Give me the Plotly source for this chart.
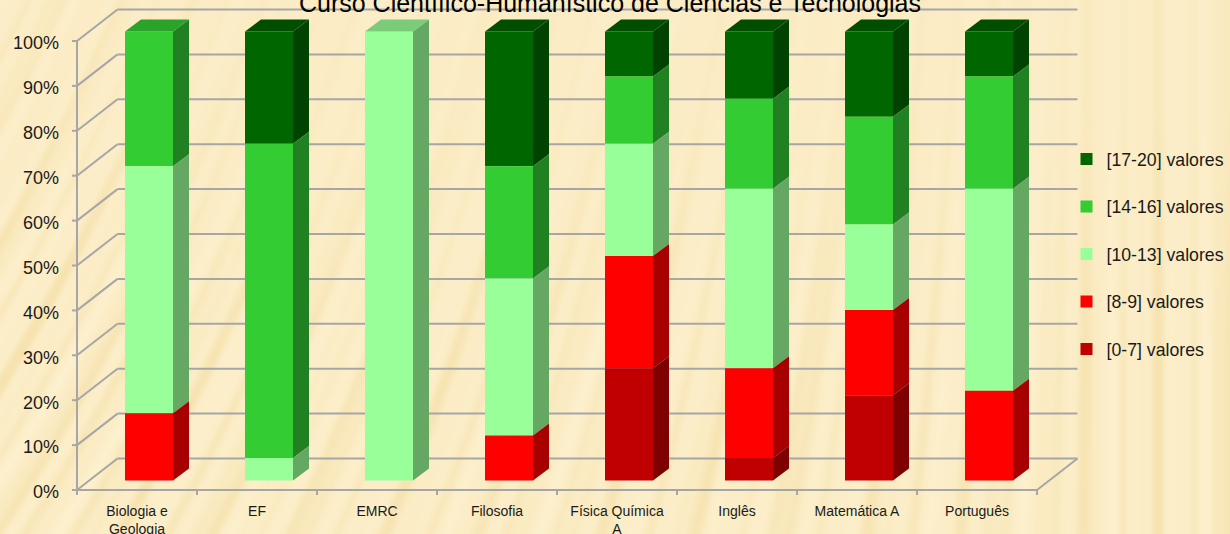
import base64, struct, zlib
import numpy as np
import plotly.graph_objects as go

categories = ["Biologia e<br>Geologia", "EF", "EMRC", "Filosofia", "Física Química<br>A", "Inglês", "Matemática A", "Português"]
s_0_7 = [0, 0, 0, 0, 25, 5, 19, 0]
s_8_9 = [15, 0, 0, 10, 25, 20, 19, 20]
s_10_13 = [55, 5, 100, 35, 25, 40, 19, 45]
s_14_16 = [30, 70, 0, 25, 15, 20, 24, 25]
s_17_20 = [0, 25, 0, 30, 10, 15, 19, 10]
names = ["[0-7] valores", "[8-9] valores", "[10-13] valores", "[14-16] valores", "[17-20] valores"]
colors = ["#C00000", "#FF0000", "#99FF99", "#33CC33", "#006600"]
side_colors = ["#7E0000", "#A60000", "#64A864", "#218021", "#004200"]
top_colors = ["#9A0000", "#CC0000", "#7ACC7A", "#2AA32A", "#004F00"]
series = [s_0_7, s_8_9, s_10_13, s_14_16, s_17_20]
ticks = list(range(0, 101, 10))

W, H = 1230, 534
PX_X = 120.0      # px per category
PX_Y = 4.49       # px per percent
X0, Y0 = 77, 490  # px of the front-left floor corner
L, R, T, B = 71, 1230, 4, 496
xr = [-0.5 + (L - X0) / PX_X, -0.5 + (R - X0) / PX_X]
yr = [(Y0 - B) / PX_Y, (Y0 - T) / PX_Y]

# 3-D projection offsets, in axis units
WALL_DX, WALL_DY = 40.5 / PX_X, 31.5 / PX_Y
BAR_FX, BAR_FY = 12 / PX_X, 9.5 / PX_Y
BAR_W = 48 / PX_X
SIDE_DX, SIDE_DY = 16 / PX_X, 12 / PX_Y


def texture():
    yy, xx = np.mgrid[0:H, 0:W].astype(float)
    u = xx / W
    lean = np.clip(1 - u * 1.12, 0, 1) * 0.5
    t = xx + yy * lean
    wave = (0.5 * np.sin(t / 5.3) + 0.3 * np.sin(t / 2.9 + 1.1) + 0.35 * np.sin(t / 11.7 + 0.4))
    mask = np.clip(0.2 + np.clip((yy - 110) / 260, 0, 1) * 0.6 + np.clip((0.25 - u) * 3, 0, 1) * 0.5
                   + np.clip((u - 0.72) * 3, 0, 1) * 0.3, 0, 1)
    v = np.clip(wave * mask, -1, 1)[..., None]
    light = np.array([253, 240, 205.0])
    dark = np.array([246, 227, 176.0])
    img = np.where(v > 0, light + (dark - light) * (0.25 * (1 - v)), light + (dark - light) * (0.25 - 0.75 * v))
    img = img.clip(0, 255).astype(np.uint8)
    raw = b"".join(b"\x00" + img[i].tobytes() for i in range(H))

    def chunk(tag, data):
        return struct.pack(">I", len(data)) + tag + data + struct.pack(">I", zlib.crc32(tag + data))
    png = b"\x89PNG\r\n\x1a\n" + chunk(b"IHDR", struct.pack(">IIBBBBB", W, H, 8, 2, 0, 0, 0)) \
        + chunk(b"IDAT", zlib.compress(raw, 9)) + chunk(b"IEND", b"")
    return "data:image/png;base64," + base64.b64encode(png).decode()


fig = go.Figure()
xs = list(range(len(categories)))
bases = np.cumsum([np.zeros(len(xs))] + [np.array(s, float) for s in series], axis=0)
for k in range(len(series) - 1, -1, -1):
    name = names[k]
    vals = np.array(series[k], float)
    cum = bases[k]
    fig.add_trace(go.Bar(
        x=xs, y=vals, base=cum + BAR_FY, name=name, width=BAR_W, offset=BAR_FX - BAR_W / 2,
        marker=dict(color=colors[k], line=dict(width=0)), legendgroup=name,
    ))
    sx, sy = [], []
    tx, ty = [], []
    for i in xs:
        if vals[i] <= 0:
            continue
        x1 = i + BAR_FX + BAR_W / 2
        lo, hi = cum[i] + BAR_FY, cum[i] + vals[i] + BAR_FY
        sx += [x1, x1 + SIDE_DX, x1 + SIDE_DX, x1, x1, None]
        sy += [lo, lo + SIDE_DY, hi + SIDE_DY, hi, lo, None]
        if cum[i] + vals[i] >= 100:
            x0 = x1 - BAR_W
            tx += [x0, x0 + SIDE_DX, x1 + SIDE_DX, x1, x0, None]
            ty += [hi, hi + SIDE_DY, hi + SIDE_DY, hi, hi, None]
    fig.add_trace(go.Scatter(x=sx, y=sy, mode="lines", line=dict(width=0), fill="toself",
                             fillcolor=side_colors[k], showlegend=False, hoverinfo="skip", legendgroup=name))
    if tx:
        fig.add_trace(go.Scatter(x=tx, y=ty, mode="lines", line=dict(width=0), fill="toself",
                                 fillcolor=top_colors[k], showlegend=False, hoverinfo="skip", legendgroup=name))

# walls and axis lines, placed through the axes
GRID = dict(color="#A6A6A6", width=2)
shapes = []


def seg(a, b, c, d):
    shapes.append(dict(type="line", xref="x", yref="y", x0=a, y0=b, x1=c, y1=d, line=GRID, layer="below"))


xl, xe = -0.5, len(categories) - 0.5
for v in ticks:
    seg(xl, v, xl + WALL_DX, v + WALL_DY)
    seg(xl + WALL_DX, v + WALL_DY, xe + WALL_DX, v + WALL_DY)
    seg(xl - 5 / PX_X, v, xl, v)
seg(xl, 0, xl, 100)
seg(xl, 0, xe, 0)
seg(xe, 0, xe + WALL_DX, WALL_DY)
for i in range(len(categories) + 1):
    seg(xl + i, 0, xl + i, -5 / PX_Y)

FONT = "Liberation Sans"
fig.update_layout(
    template="none",
    width=W, height=H, autosize=False,
    margin=dict(l=L, r=W - R, t=T, b=H - B, pad=0),
    paper_bgcolor="#FDF0CD", plot_bgcolor="rgba(0,0,0,0)",
    barmode="overlay", font=dict(family=FONT, color="#1A1A1A"),
    title=dict(text="Curso Científico-Humanístico de Ciências e Tecnologias",
               x=610 / W, xanchor="center", y=1 - 3 / H, yanchor="middle",
               font=dict(family=FONT, size=25, color="#000000")),
    xaxis=dict(range=xr, tickmode="array", tickvals=xs, ticktext=categories, ticks="", automargin=False,
               showgrid=False, zeroline=False, showline=False, tickangle=0,
               tickfont=dict(size=14), ticklabelstandoff=5),
    yaxis=dict(range=yr, tickmode="array", tickvals=ticks, ticktext=[f"{v}%" for v in ticks], ticks="", automargin=False,
               showgrid=False, zeroline=False, showline=False,
               tickfont=dict(size=18), ticklabelstandoff=11, ticklabelshift=2),
    legend=dict(x=(1066.5 - L) / (R - L), xanchor="left", y=(B - 368) / (B - T), yanchor="bottom",
                traceorder="grouped", tracegroupgap=21.5, bgcolor="rgba(0,0,0,0)",
                font=dict(size=17.7, color="#1A1A1A"), itemclick=False, itemdoubleclick=False),
    shapes=shapes,
    images=[dict(source=texture(), xref="paper", yref="paper",
                 x=-L / (R - L), y=1 + T / (B - T), sizex=W / (R - L), sizey=H / (B - T),
                 xanchor="left", yanchor="top", sizing="stretch", layer="below")],
    hovermode=False, showlegend=True,
)
fig.write_html("out.html", config=dict(displayModeBar=False),
               post_script="document.body.style.margin='0';document.documentElement.style.overflow='hidden';")
